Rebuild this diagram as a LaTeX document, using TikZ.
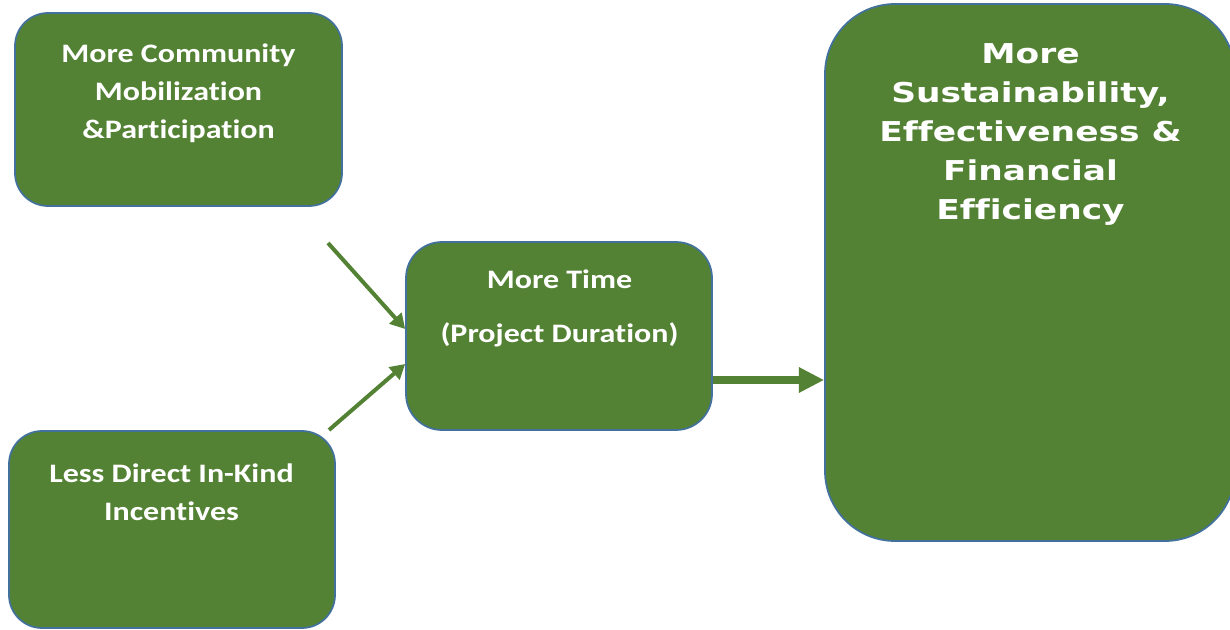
\documentclass[tikz,border=0pt]{standalone}
\usepackage{fontspec}
\setmainfont{Carlito}[FakeStretch=1.2,Ligatures=NoCommon]
\newfontfamily\verdfont{DejaVu Sans}[FakeStretch=1.26,Ligatures=NoCommon]
\usetikzlibrary{arrows.meta,calc}
\definecolor{boxgreen}{HTML}{548235}
\definecolor{boxblue}{HTML}{41719C}
\tikzset{
  box/.style={draw=boxblue, line width=1.3pt, fill=boxgreen, rectangle},
  lbl/.style={text=white, font=\fontsize{20}{28.5}\selectfont\bfseries, align=center, inner sep=0pt, anchor=base},
  bigl/.style={text=white, font=\verdfont\fontsize{20.5}{29.25}\selectfont\bfseries, align=center, inner sep=0pt, anchor=base},
  thinarrow/.style={draw=boxgreen, line width=3pt, -{Triangle[length=11pt,width=12pt]}},
  thickarrow/.style={draw=boxgreen, line width=6pt, -{Triangle[length=19pt,width=18pt]}}
}
\begin{document}
\begin{tikzpicture}[x=0.75pt,y=-0.75pt]
\useasboundingbox (0,0) rectangle (1230,630);
\clip (0,0) rectangle (1230,630);
% boxes
\node[box, minimum width=327*0.75pt, minimum height=193*0.75pt, rounded corners=33*0.75pt] (A) at (178.5,109.5) {};
\node[box, minimum width=326*0.75pt, minimum height=197*0.75pt, rounded corners=33*0.75pt] (B) at (172,529.5) {};
\node[box, minimum width=306*0.75pt, minimum height=188*0.75pt, rounded corners=36*0.75pt] (C) at (559,336) {};
\node[box, minimum width=410*0.75pt, minimum height=537*0.75pt, rounded corners=70*0.75pt] (D) at (1030,272.5) {};
% labels (base anchor = baseline of the last line)
\node[lbl] (tA) at (178.5,139) {More Community\\Mobilization\\\&Participation};
\node[lbl] (tB) at (171.5,520) {Less Direct In-Kind\\Incentives};
\node[lbl] (tC1) at (559.5,289) {More Time};
\node[lbl] (tC2) at (559.5,343) {(Project Duration)};
\node[bigl] (tD) at (1030.5,220) {More\\Sustainability,\\Effectiveness \&\\Financial\\Efficiency};
% connectors
\coordinate (s1) at (328,243);
\coordinate (s2) at (329,430);
\draw[thinarrow] (s1) -- ($(C.west)+(0,-7)$);
\draw[thinarrow] (s2) -- ($(C.west)+(0,28)$);
\draw[thickarrow] ($(C.east)+(0,44)$) -- ($(D.west)+(0,107.5)$);
\end{tikzpicture}
\end{document}
